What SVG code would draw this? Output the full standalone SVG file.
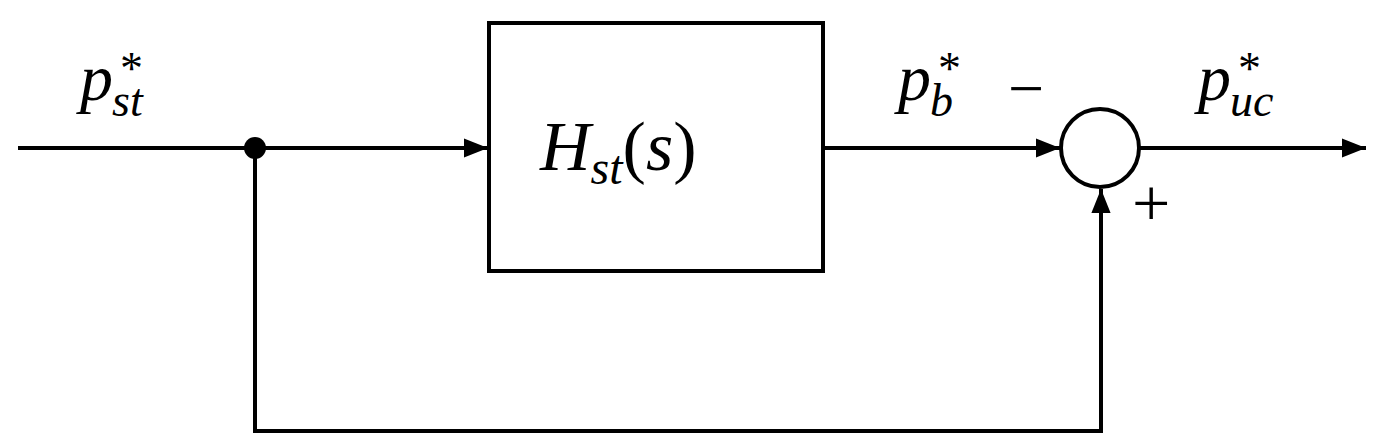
<svg xmlns="http://www.w3.org/2000/svg" width="1389" height="446" viewBox="0 0 1389 446">
<style>
.l{fill:none;stroke:#000;stroke-width:4}
text{font-family:'Liberation Serif','DejaVu Serif',serif;fill:#000}
.t{font-style:italic}
.s{font-style:normal}
</style>
<defs><marker id="a" viewBox="0 0 10 10" refX="10" refY="5" markerWidth="8" markerHeight="6" markerUnits="strokeWidth" orient="auto"><path d="M0,1 L10,5 L0,9 z" fill="#000"/></marker></defs>
<g id="connectors">
<path class="l" d="M18,148 H488" marker-end="url(#a)"/>
<path class="l" d="M823,148 H1060" marker-end="url(#a)"/>
<path class="l" d="M1140,148 H1366" marker-end="url(#a)"/>
<path class="l" d="M255,148 V431 H1101 V189" marker-end="url(#a)"/>
</g>
<g id="junction"><circle cx="255" cy="148" r="11" fill="#000"/></g>
<g id="block"><rect class="l" x="489" y="23" width="334" height="248"/>
<text x="540" y="170" class="t" font-size="70">H<tspan font-size="48" dy="14">st</tspan><tspan class="s" font-size="70" dy="-14">(</tspan>s<tspan class="s">)</tspan></text></g>
<g id="sum"><circle class="l" cx="1100" cy="148" r="39"/>
<text x="1008" y="110" font-size="64">−</text>
<text x="1132" y="226" font-size="68">+</text></g>
<g id="labels">
<text x="80" y="100" class="t" font-size="66">p<tspan class="s" font-size="46" x="120" y="84">*</tspan><tspan font-size="46" x="112" y="116">st</tspan></text>
<text x="898" y="100" class="t" font-size="66">p<tspan class="s" font-size="46" x="938" y="84">*</tspan><tspan font-size="46" x="930" y="116">b</tspan></text>
<text x="1198" y="100" class="t" font-size="66">p<tspan class="s" font-size="46" x="1238" y="84">*</tspan><tspan font-size="46" x="1230" y="116">uc</tspan></text>
</g>
</svg>
